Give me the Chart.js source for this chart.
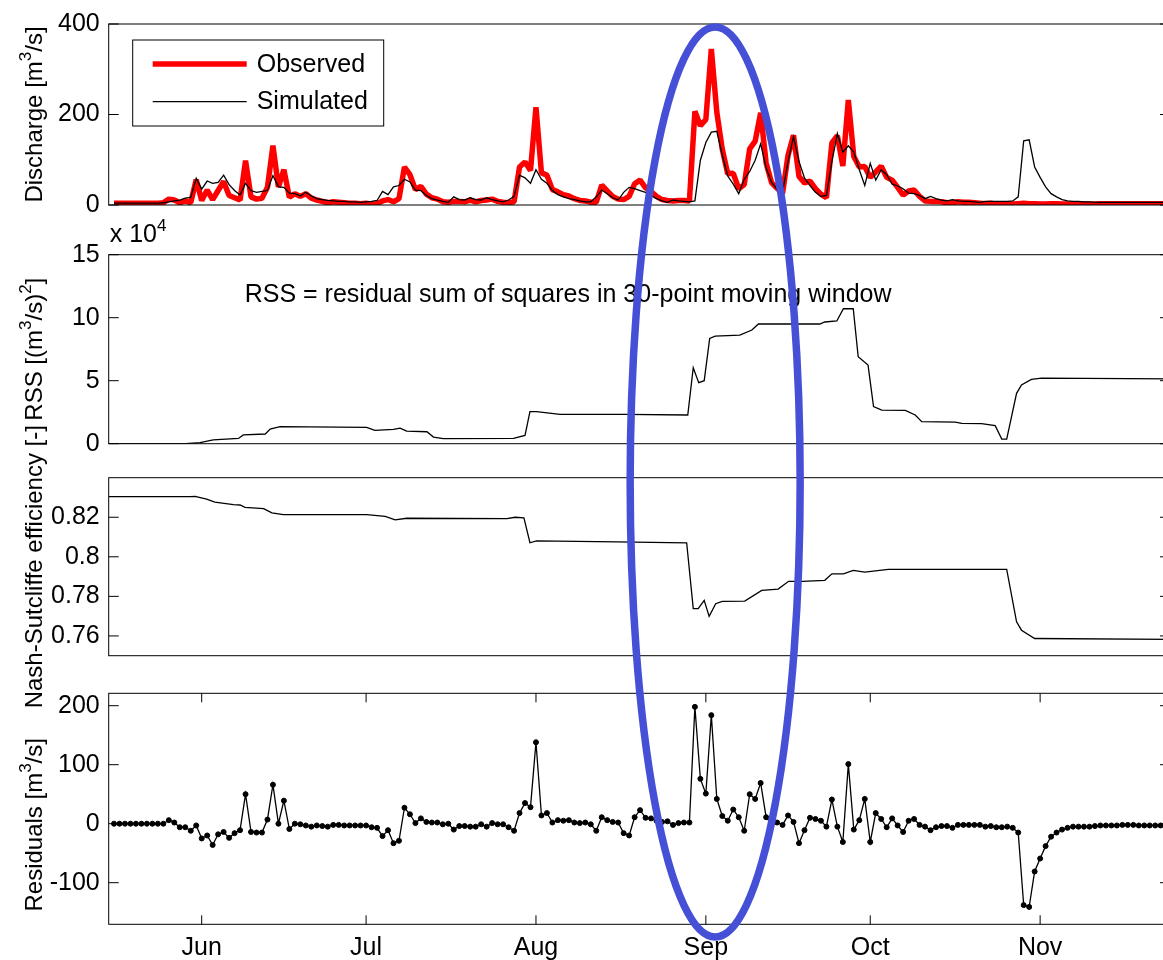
<!DOCTYPE html>
<html lang="en">
<head>
<meta charset="UTF-8">
<title>Discharge, RSS, Nash-Sutcliffe and residuals</title>
<script src="https://cdn.jsdelivr.net/npm/chart.js"></script>
<style>
  html, body { margin: 0; padding: 0; background: #fff; overflow: hidden; }
  #wrap { position: relative; width: 1163px; height: 960px; overflow: hidden; }
  #wrap canvas { position: absolute; left: 0; top: 0; }
</style>
</head>
<body>
<div id="wrap">
  <canvas id="qChart" width="1180" height="960"></canvas>
  <canvas id="rssChart" width="1180" height="960"></canvas>
  <canvas id="nseChart" width="1180" height="960"></canvas>
  <canvas id="resChart" width="1180" height="960"></canvas>
</div>
<script>
// days counted from 1 June, first sample is 16 May
const firstDay = -16;
const monthDays = [0, 30, 61, 92, 122, 153];
const monthLabels = ['Jun', 'Jul', 'Aug', 'Sep', 'Oct', 'Nov'];

// daily discharge [m3/s]
const observed = [
  4, 4, 4, 4, 4, 4, 4, 4, 4, 5,
  13, 11, 5, 9, 5, 56, 10, 33, 12, 32,
  52, 21, 16, 11, 98, 18, 13, 15, 39, 131,
  40, 78, 17, 25, 19, 25, 15, 11, 8, 5,
  7, 6, 5, 4, 4, 3, 4, 2, 3, 9,
  12, 7, 14, 84, 67, 34, 41, 24, 16, 13,
  7, 6, 8, 8, 7, 11, 7, 10, 11, 13,
  8, 6, 5, 7, 84, 95, 76, 216, 71, 66,
  34, 29, 23, 20, 14, 10, 9, 6, 6, 44,
  31, 19, 13, 12, 19, 47, 55, 38, 30, 19,
  12, 10, 9, 10, 10, 9, 207, 175, 189, 345,
  205, 123, 69, 70, 36, 45, 124, 141, 204, 93,
  49, 37, 26, 110, 154, 63, 49, 53, 36, 24,
  16, 137, 153, 86, 232, 107, 84, 85, 61, 73,
  86, 61, 55, 39, 22, 31, 33, 19, 9, 8,
  8, 7, 5, 5, 7, 6, 6, 5, 4, 3,
  4, 2, 2, 3, 2, 3, 4, 3, 3, 2,
  2, 3, 3, 2, 2, 3, 3, 2, 2, 2,
  3, 3, 3, 3, 3, 3, 3, 3, 3, 3,
  3, 3, 3
];
const simulated = [
  4, 4, 4, 4, 4, 4, 4, 4, 4, 5,
  7, 9, 11, 15, 17, 59, 35, 53, 48, 50,
  66, 45, 32, 22, 48, 32, 28, 30, 32, 65,
  40, 39, 26, 25, 20, 28, 20, 14, 12, 10,
  9, 8, 8, 7, 7, 6, 7, 8, 10, 30,
  23, 40, 43, 57, 51, 33, 32, 21, 14, 11,
  8, 6, 18, 12, 11, 16, 12, 11, 16, 12,
  9, 7, 11, 19, 66, 60, 48, 78, 57, 48,
  32, 23, 18, 14, 12, 9, 7, 7, 18, 33,
  25, 16, 11, 28, 39, 36, 32, 28, 21, 14,
  9, 6, 11, 9, 8, 7, 9, 99, 138, 161,
  163, 110, 64, 46, 25, 57, 74, 99, 135, 82,
  50, 35, 28, 96, 151, 96, 60, 43, 28, 19,
  21, 96, 158, 117, 131, 117, 78, 43, 92, 55,
  78, 67, 46, 42, 36, 26, 25, 21, 14, 19,
  14, 11, 9, 12, 9, 8, 8, 7, 6, 8,
  8, 8, 8, 8, 9, 18, 142, 144, 84, 61,
  40, 25, 18, 12, 9, 8, 8, 7, 7, 6,
  6, 6, 6, 6, 6, 6, 6, 6, 6, 6,
  6, 6, 6
];
const residuals = [
  0, 0, 0, 0, 0, 0, 0, 0, 0, 0,
  6, 2, -6, -6, -12, -3, -25, -20, -36, -18,
  -14, -24, -16, -11, 50, -14, -15, -15, 7, 66,
  0, 39, -9, 0, -1, -3, -5, -3, -4, -5,
  -2, -2, -3, -3, -3, -3, -3, -6, -7, -21,
  -11, -33, -29, 27, 16, 1, 9, 3, 2, 2,
  -1, 0, -10, -4, -4, -5, -5, -1, -5, 1,
  -1, -1, -6, -12, 18, 35, 28, 138, 14, 18,
  2, 6, 5, 6, 2, 1, 2, -1, -12, 11,
  6, 3, 2, -16, -20, 11, 23, 10, 9, 5,
  3, 4, -2, 1, 2, 2, 198, 76, 51, 184,
  42, 13, 5, 24, 11, -12, 50, 42, 69, 11,
  -1, 2, -2, 14, 3, -33, -11, 10, 8, 5,
  -5, 41, -5, -31, 101, -10, 6, 42, -31, 18,
  8, -6, 9, -3, -14, 5, 8, -2, -5, -11,
  -6, -4, -4, -7, -2, -2, -2, -2, -2, -5,
  -4, -6, -6, -5, -7, -15, -138, -141, -81, -59,
  -38, -22, -15, -10, -7, -5, -5, -5, -5, -4,
  -3, -3, -3, -3, -2, -2, -2, -3, -3, -3,
  -3, -3, -3
];

// RSS in 30-point window, units of 10^4 (m3/s)^2
const rssDays = [-17, -3, -0.3, 2.1, 6.7, 7.6, 11.6, 12.5, 14.3, 30.1, 31.6, 35, 36.2, 37.4, 41.1, 42.3, 44.1,
  56.9, 59, 59.9, 61.1, 65.4, 77.2, 88.7, 89.7, 90.7, 91.7, 92.7, 93.7, 98.2, 100.4, 101.6, 112.8, 113.7,
  115.9, 117.1, 118.9, 119.8, 121.6, 122.6, 124.1, 128.4, 130.2, 131.4, 137.5, 138.7, 142.3, 144.8, 146,
  146.9, 148.7, 149.6, 151.4, 153.3, 176.7];
const rssValues = [0, 0, 0.08, 0.3, 0.42, 0.7, 0.77, 1.16, 1.35, 1.3, 1.06, 1.14, 1.24, 1.0, 0.95, 0.53, 0.4,
  0.42, 0.66, 2.54, 2.54, 2.33, 2.33, 2.28, 6.03, 4.84, 5.0, 8.36, 8.54, 8.62, 9.02, 9.5, 9.5, 9.66,
  9.74, 10.71, 10.71, 6.9, 6.24, 2.94, 2.67, 2.65, 2.28, 1.75, 1.72, 1.61, 1.59, 1.43, 0.37,
  0.37, 4.0, 4.66, 5.1, 5.21, 5.15];

// Nash-Sutcliffe efficiency
const nseDays = [-17, -2.1, -1.2, 0.9, 2.4, 5.8, 7.0, 7.9, 11.3, 12.8, 14.9, 30.1, 33.5, 35.3, 37.4, 55.7,
  57.2, 58.8, 59.9, 61.1, 75.7, 88.5, 89.7, 90.6, 91.7, 92.6, 93.8, 95.0, 99.1, 102.2, 105.2, 107.1,
  109.6, 113.7, 115.0, 117.1, 118.9, 121.0, 125.3, 146.9, 148.7, 149.6, 152.0, 176.7];
const nseValues = [0.8304, 0.8304, 0.8306, 0.8292, 0.8276, 0.8264, 0.8262, 0.8250, 0.8244, 0.8222, 0.8213,
  0.8213, 0.8205, 0.8187, 0.8195, 0.8193, 0.8200, 0.8197, 0.8071, 0.8081, 0.8076, 0.8071, 0.7738, 0.7738,
  0.7780, 0.7699, 0.7763, 0.7775, 0.7776, 0.7830, 0.7837, 0.7876, 0.7876, 0.7881, 0.7914, 0.7914, 0.7931,
  0.7923, 0.7936, 0.7936, 0.7671, 0.7629, 0.7587, 0.7583];

const dischargeTicks = [0, 200, 400];
const rssTicks = [0, 5, 10, 15];
const nseTicks = [0.76, 0.78, 0.8, 0.82];
const residualTicks = [-100, 0, 100, 200];

const FAMILY = '"Liberation Sans", Arial, Helvetica, sans-serif';
Chart.defaults.font.family = FAMILY;
Chart.defaults.font.size = 25;
Chart.defaults.color = '#000';

const FONT = '25px ' + FAMILY;
const TITLE_FONT = '24px ' + FAMILY;
const SUP_FONT = '17px ' + FAMILY;
const CANVAS_W = 1180, CANVAS_H = 960;
const PLOT_LEFT = 108.7, PLOT_RIGHT = 1170;
const X_MIN = -16.97, X_MAX = 176.7;

const dayIndex = observed.map((_, i) => firstDay + i);
function xy(xs, ys) { return ys.map((v, i) => ({ x: xs[i], y: v })); }

// text with raised small parts: strings are normal, {sup: '3'} is a superscript
function richText(ctx, parts, x, y, align, font) {
  const widths = parts.map(p => {
    ctx.font = typeof p === 'string' ? font : SUP_FONT;
    return ctx.measureText(typeof p === 'string' ? p : p.sup).width;
  });
  const total = widths.reduce((s, w) => s + w, 0);
  let cx = align === 'center' ? x - total / 2 : x;
  ctx.textAlign = 'left';
  ctx.textBaseline = 'alphabetic';
  parts.forEach((p, i) => {
    if (typeof p === 'string') { ctx.font = font; ctx.fillText(p, cx, y); }
    else { ctx.font = SUP_FONT; ctx.fillText(p.sup, cx, y - 11); }
    cx += widths[i];
  });
}

// box, inward ticks on all sides, rotated y label
const frame = {
  id: 'frame',
  afterDraw(chart, args, o) {
    const { ctx, chartArea: a, scales } = chart;
    ctx.save();
    ctx.strokeStyle = '#000';
    ctx.lineWidth = 1;
    ctx.strokeRect(a.left, a.top, a.right - a.left, a.bottom - a.top);
    ctx.beginPath();
    scales.y.ticks.forEach(t => {
      const py = scales.y.getPixelForValue(t.value);
      ctx.moveTo(a.left, py); ctx.lineTo(a.left + 10, py);
      ctx.moveTo(a.right, py); ctx.lineTo(a.right - 10, py);
    });
    if (o.xTicks) {
      monthDays.forEach(d => {
        const px = scales.x.getPixelForValue(d);
        ctx.moveTo(px, a.top); ctx.lineTo(px, a.top + 9);
        ctx.moveTo(px, a.bottom); ctx.lineTo(px, a.bottom - 9);
      });
    }
    ctx.stroke();
    ctx.translate(42, (a.top + a.bottom) / 2 + (o.titleShift || 0));
    ctx.rotate(-Math.PI / 2);
    ctx.fillStyle = '#000';
    richText(ctx, o.title, 0, 0, 'center', TITLE_FONT);
    ctx.restore();
  }
};

const boxLegend = {
  id: 'boxLegend',
  afterDraw(chart) {
    const { ctx, chartArea: a } = chart;
    const x0 = a.left + 24, y0 = a.top + 16;
    ctx.save();
    ctx.fillStyle = '#fff';
    ctx.fillRect(x0, y0, 251, 86);
    ctx.strokeStyle = '#000';
    ctx.lineWidth = 1;
    ctx.strokeRect(x0, y0, 251, 86);
    chart.data.datasets.forEach((ds, i) => {
      const y = y0 + 24 + i * 37.6;
      ctx.beginPath();
      ctx.strokeStyle = ds.borderColor;
      ctx.lineWidth = ds.borderWidth;
      ctx.moveTo(x0 + 20, y); ctx.lineTo(x0 + 114, y);
      ctx.stroke();
      ctx.fillStyle = '#000';
      ctx.font = FONT;
      ctx.textBaseline = 'middle';
      ctx.fillText(ds.label, x0 + 124, y + 1);
    });
    ctx.restore();
  }
};

const rssNotes = {
  id: 'rssNotes',
  afterDraw(chart) {
    const { ctx, chartArea: a } = chart;
    ctx.save();
    ctx.fillStyle = '#000';
    ctx.textBaseline = 'alphabetic';
    ctx.font = FONT;
    ctx.fillText('RSS = residual sum of squares in 30-point moving window', a.left + 136, a.top + 47);
    richText(ctx, ['x 10', { sup: '4' }], a.left + 1, a.top - 12.5, 'left', FONT);
    ctx.restore();
  }
};

const ellipseDay = 93.7;
const ring = {
  id: 'ring',
  afterDraw(chart) {
    const ctx = chart.ctx;
    const cx = chart.scales.x.getPixelForValue(ellipseDay);
    ctx.save();
    ctx.strokeStyle = '#4550D7';
    ctx.lineWidth = 7.5;
    ctx.beginPath();
    ctx.ellipse(cx, 482, 85, 455, 0, 0, Math.PI * 2);
    ctx.stroke();
    ctx.restore();
  }
};

function panel(id, top, bottom, yMin, yMax, yTicks, datasets, o) {
  return new Chart(document.getElementById(id), {
    type: 'line',
    data: { datasets },
    options: {
      responsive: false,
      animation: false,
      devicePixelRatio: 1,
      events: [],
      layout: { padding: { left: 0, right: CANVAS_W - PLOT_RIGHT, top: top, bottom: o.xLabels ? 0 : CANVAS_H - bottom } },
      scales: {
        x: {
          type: 'linear', min: X_MIN, max: X_MAX, display: !!o.xLabels,
          grid: { display: false, drawTicks: false }, border: { display: false },
          afterBuildTicks: s => { s.ticks = monthDays.map(v => ({ value: v })); },
          afterFit: s => { if (o.xLabels) s.height = CANVAS_H - bottom; },
          ticks: { autoSkip: false, maxRotation: 0, padding: 9, callback: (v, i) => monthLabels[i] }
        },
        y: {
          min: yMin, max: yMax,
          grid: { display: false, drawTicks: false }, border: { display: false },
          afterBuildTicks: s => { s.ticks = yTicks.map(v => ({ value: v })); },
          afterFit: s => { s.width = PLOT_LEFT; },
          ticks: { padding: 9, callback: o.fmt || (v => String(v)) }
        }
      },
      plugins: {
        legend: { display: false },
        tooltip: { enabled: false },
        frame: { title: o.title, titleShift: o.titleShift, xTicks: !!o.xLabels }
      }
    },
    plugins: [frame].concat(o.plugins || [])
  });
}

panel('qChart', 16.7, 205, 0, 400, dischargeTicks, [
  { label: 'Observed', data: xy(dayIndex, observed), borderColor: '#ff0000', borderWidth: 5.5,
    borderJoinStyle: 'bevel', pointRadius: 0, order: 1 },
  { label: 'Simulated', data: xy(dayIndex, simulated), borderColor: '#000000', borderWidth: 1.3,
    pointRadius: 0, order: 0 }
], { title: ['Discharge [m', { sup: '3' }, '/s]'], plugins: [boxLegend] });

panel('rssChart', 254.7, 443.7, 0, 15, rssTicks, [
  { label: 'RSS', data: xy(rssDays, rssValues), borderColor: '#000', borderWidth: 1.3, pointRadius: 0 }
], { title: ['RSS [(m', { sup: '3' }, '/s)', { sup: '2' }, ']'], plugins: [rssNotes] });

panel('nseChart', 477.7, 655.7, 0.75, 0.84, nseTicks, [
  { label: 'NSE', data: xy(nseDays, nseValues), borderColor: '#000', borderWidth: 1.3, pointRadius: 0 }
], { title: ['Nash-Sutcliffe efficiency [-]'], fmt: v => String(Math.round(v * 100) / 100) });

panel('resChart', 693.3, 924.3, -170.5, 221, residualTicks, [
  { label: 'Residuals', data: xy(dayIndex, residuals), borderColor: '#000', borderWidth: 1.3,
    pointRadius: 2.5, pointBorderWidth: 1, pointBackgroundColor: '#000', pointBorderColor: '#000' }
], { title: ['Residuals [m', { sup: '3' }, '/s]'], titleShift: 16, xLabels: true, plugins: [ring] });
</script>
</body>
</html>
